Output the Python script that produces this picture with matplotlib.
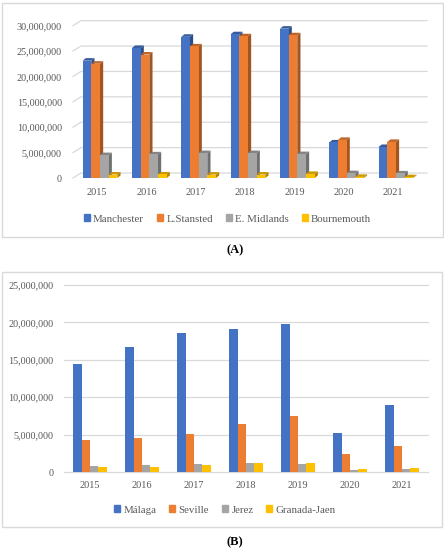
import matplotlib
matplotlib.use('Agg')
import matplotlib.pyplot as plt
from matplotlib.patches import Polygon, Rectangle, Patch
from matplotlib.ticker import FuncFormatter
import matplotlib.colors as mcolors

plt.rcParams['font.family'] = ['Liberation Serif', 'DejaVu Serif']

# ---------------- data ----------------
years = ['2015', '2016', '2017', '2018', '2019', '2020', '2021']

uk_airports = ['Manchester', 'L.Stansted', 'E. Midlands', 'Bournemouth']
manchester = [23.1e6, 25.6e6, 27.8e6, 28.3e6, 29.4e6, 7.0e6, 6.1e6]
stansted = [22.5e6, 24.3e6, 25.9e6, 27.9e6, 28.1e6, 7.5e6, 7.1e6]
east_midlands = [4.5e6, 4.65e6, 4.9e6, 4.9e6, 4.7e6, 0.95e6, 0.9e6]
bournemouth = [0.68e6, 0.69e6, 0.67e6, 0.68e6, 0.80e6, 0.22e6, 0.15e6]

es_airports = ['Málaga', 'Seville', 'Jerez', 'Granada-Jaen']
malaga = [14.4e6, 16.7e6, 18.6e6, 19.1e6, 19.8e6, 5.2e6, 8.9e6]
seville = [4.3e6, 4.6e6, 5.1e6, 6.4e6, 7.5e6, 2.35e6, 3.5e6]
jerez = [0.8e6, 0.9e6, 1.07e6, 1.15e6, 1.12e6, 0.22e6, 0.45e6]
granada = [0.67e6, 0.72e6, 0.89e6, 1.16e6, 1.25e6, 0.40e6, 0.53e6]

ticks_a = [0, 5e6, 10e6, 15e6, 20e6, 25e6, 30e6]
ticks_b = [0, 5e6, 10e6, 15e6, 20e6, 25e6]

colors = ['#4472C4', '#ED7D31', '#A5A5A5', '#FFC000']
grid_c = '#d9d9d9'
text_c = '#595959'

W, H = 444, 550
fig = plt.figure(figsize=(W / 100, H / 100), dpi=100)


def px_axes(l, t, r, b):
    return fig.add_axes([l / W, 1 - b / H, (r - l) / W, (b - t) / H])


def shade(c, f):
    r, g, b = mcolors.to_rgb(c)
    return (r * f, g * f, b * f)


fmt = FuncFormatter(lambda v, p: f'{int(v):,}')

# panel frames
for (l, t, r, b) in [(2, 3, 443, 237), (2, 272, 442, 527)]:
    fig.patches.append(Rectangle((l / W, 1 - b / H), (r - l) / W, (b - t) / H,
                                 transform=fig.transFigure, fill=False,
                                 ec=grid_c, lw=1.0))

# ---------------- panel A (pseudo 3D) ----------------
axA = px_axes(73, 18, 427, 178)
xminA, xmaxA = -0.487, 6.69
axA.set_xlim(xminA, xmaxA)
axA.set_ylim(0, 31.5e6)
for s in axA.spines.values():
    s.set_visible(False)

gdx, gdy = 0.162, 0.98e6
for v in ticks_a:
    axA.plot([xminA, xminA + gdx, xmaxA], [v, v + gdy, v + gdy],
             color=grid_c, lw=0.9, zorder=0, clip_on=False)

seriesA = [manchester, stansted, east_midlands, bournemouth]
bwA = 0.176
bdx, bdy = 0.065, 0.5e6
for k, (vals, c) in enumerate(zip(seriesA, colors)):
    xs = [i + 0.06 + (k - 1.5) * bwA for i in range(len(years))]
    axA.bar(xs, vals, width=bwA, color=c, zorder=3 + 2 * k + 1,
            label=uk_airports[k])
    for x, v in zip(xs, vals):
        xl, xr = x - bwA / 2, x + bwA / 2
        side = Polygon([(xr, 0), (xr + bdx, bdy), (xr + bdx, v + bdy), (xr, v)],
                       closed=True, fc=shade(c, 0.68), ec='none',
                       zorder=3 + 2 * k)
        top = Polygon([(xl, v), (xl + bdx, v + bdy), (xr + bdx, v + bdy), (xr, v)],
                      closed=True, fc=shade(c, 0.8), ec='none',
                      zorder=3 + 2 * k)
        axA.add_patch(side)
        axA.add_patch(top)

axA.set_yticks(ticks_a)
axA.yaxis.set_major_formatter(fmt)
axA.set_xticks(range(len(years)))
axA.set_xticklabels(years)
axA.tick_params(axis='y', length=0, pad=8, labelsize=7.3, labelcolor=text_c)
axA.tick_params(axis='x', length=0, pad=7, labelsize=7.4, labelcolor=text_c)

handlesA = [Patch(color=c) for c in colors]
axA.legend(handlesA, uk_airports, loc='center',
           bbox_to_anchor=(227.5 / W, 1 - 219 / H), bbox_transform=fig.transFigure,
           ncol=4, frameon=False, fontsize=7.8, handlelength=0.55,
           handleheight=0.55, handletextpad=0.3, columnspacing=1.2,
           labelcolor=text_c, borderpad=0)

fig.text(235 / W, 1 - 250 / H, '(A)', ha='center', va='center',
         fontsize=9, fontweight='bold')

# ---------------- panel B ----------------
axB = px_axes(64, 285, 428, 472)
axB.set_xlim(-0.5, 6.5)
axB.set_ylim(0, 25e6)
for s in axB.spines.values():
    s.set_visible(False)
for v in ticks_b:
    axB.axhline(v, color=grid_c, lw=0.9, zorder=0, clip_on=False)

seriesB = [malaga, seville, jerez, granada]
bwB = 0.163
for k, (vals, c) in enumerate(zip(seriesB, colors)):
    xs = [i + (k - 1.5) * bwB for i in range(len(years))]
    axB.bar(xs, vals, width=bwB, color=c, zorder=3, label=es_airports[k])

axB.set_yticks(ticks_b)
axB.yaxis.set_major_formatter(fmt)
axB.set_xticks(range(len(years)))
axB.set_xticklabels(years)
axB.tick_params(axis='y', length=0, pad=7.5, labelsize=7.3, labelcolor=text_c)
axB.tick_params(axis='x', length=0, pad=6.5, labelsize=7.4, labelcolor=text_c)

handlesB = [Patch(color=c) for c in colors]
axB.legend(handlesB, es_airports, loc='center',
           bbox_to_anchor=(225 / W, 1 - 510 / H), bbox_transform=fig.transFigure,
           ncol=4, frameon=False, fontsize=7.8, handlelength=0.55,
           handleheight=0.55, handletextpad=0.3, columnspacing=1.2,
           labelcolor=text_c, borderpad=0)

fig.text(235 / W, 1 - 542 / H, '(B)', ha='center', va='center',
         fontsize=9, fontweight='bold')

fig.savefig('out.png', dpi=100)
